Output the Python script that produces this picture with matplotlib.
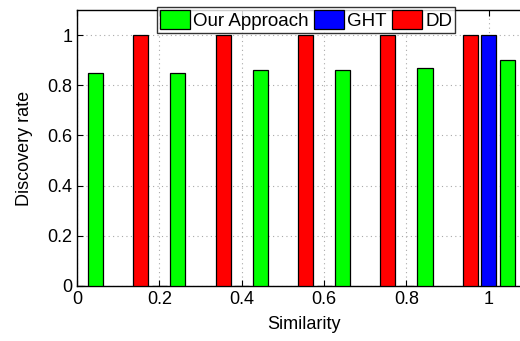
import matplotlib
matplotlib.use("Agg")
import matplotlib.pyplot as plt
import numpy as np

plt.rcParams['font.family'] = ['Liberation Sans', 'DejaVu Sans']

similarity = [0.0, 0.2, 0.4, 0.6, 0.8, 1.0]
dd = [0, 1, 1, 1, 1, 1]
ght = [0, 0, 0, 0, 0, 1]
ours = [0.85, 0.85, 0.86, 0.86, 0.87, 0.90]
xticks = [0, 0.2, 0.4, 0.6, 0.8, 1]
xticklabels = ['0', '0.2', '0.4', '0.6', '0.8', '1']
yticks = [0, 0.2, 0.4, 0.6, 0.8, 1]
yticklabels = ['0', '0.2', '0.4', '0.6', '0.8', '1']

fig = plt.figure(figsize=(5.2, 3.41), dpi=100)
ax = fig.add_axes([77/520, 55/341, 453/520, 276/341])

x = np.array(similarity)
off = 0.045
w = 0.0365
b_ours = ax.bar(x + off, ours, w, color='#00ff00', edgecolor='black', linewidth=0.9, label='Our Approach', zorder=3)
b_ght = ax.bar(x, ght, w, color='#0000ff', edgecolor='black', linewidth=0.9, label='GHT', zorder=3)
b_dd = ax.bar(x - off, dd, w, color='#ff0000', edgecolor='black', linewidth=0.9, label='DD', zorder=3)

ax.set_xlim(0, 1.1)
ax.set_ylim(0, 1.1)
ax.set_xticks(xticks)
ax.set_xticklabels(xticklabels)
ax.set_yticks(yticks)
ax.set_yticklabels(yticklabels)
ax.grid(True, linestyle=(0, (1, 3)), color='#aaaaaa', linewidth=0.8, zorder=0)
ax.set_axisbelow(True)
ax.tick_params(direction='in', top=True, right=True, labelsize=13, length=4, width=0.8)
for s in ax.spines.values():
    s.set_linewidth(1.0)
ax.set_xlabel('Similarity', fontsize=13, labelpad=6)
ax.set_ylabel('Discovery rate', fontsize=13, labelpad=10)

leg = ax.legend(handles=[b_ours, b_ght, b_dd], loc='upper center', bbox_to_anchor=(0.506, 1.012),
                ncol=3, fontsize=13.5, frameon=True, fancybox=False, edgecolor='black',
                handlelength=1.6, handleheight=1.2, handletextpad=0.15, columnspacing=0.3,
                borderpad=0.18, borderaxespad=0)
leg.get_frame().set_linewidth(1.0)
leg.set_zorder(5)

fig.savefig('out.png', dpi=100)
